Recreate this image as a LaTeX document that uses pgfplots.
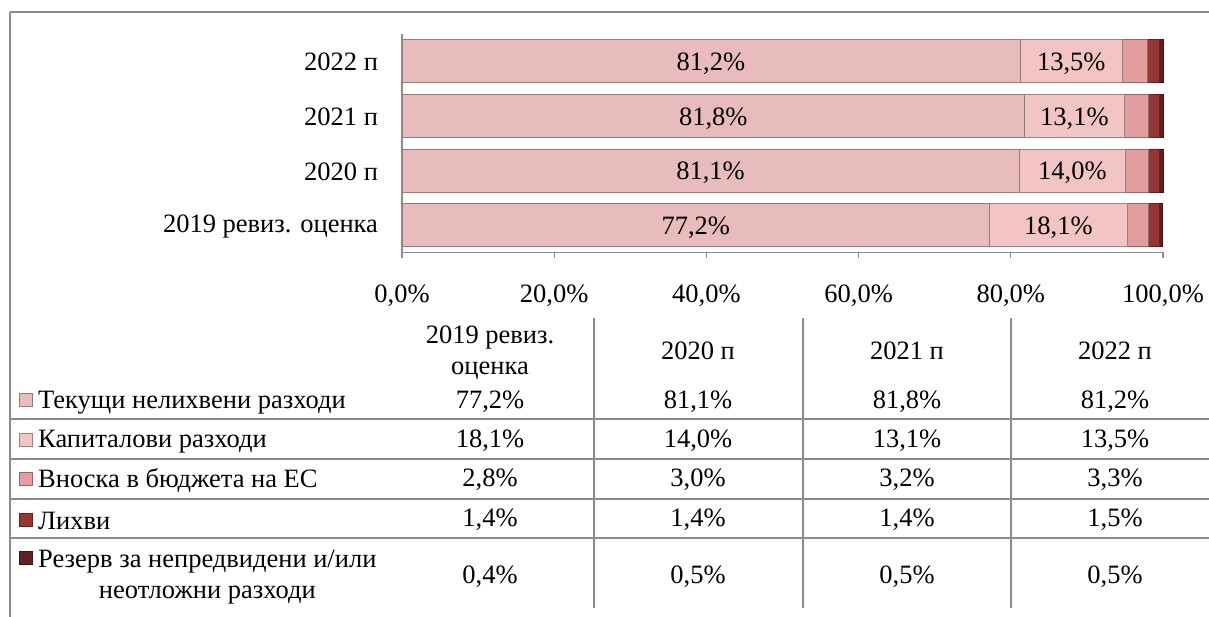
\documentclass[border=0pt]{standalone}
\usepackage{pgfplots}
\pgfplotsset{compat=1.18}
\usepackage{pgfplotstable}
\usepackage{fontspec}
\setmainfont{Liberation Serif}
\definecolor{cA}{HTML}{E8BCBC}
\definecolor{cB}{HTML}{F2C4C4}
\definecolor{cC}{HTML}{E29E9E}
\definecolor{cD}{HTML}{963634}
\definecolor{cE}{HTML}{5E2020}
\definecolor{linegray}{HTML}{8C8C8C}
\pgfplotstableread{
y s1 s2 s3 s4 s5
0 77.2 18.1 2.8 1.4 0.4
1 81.1 14.0 3.0 1.4 0.5
2 81.8 13.1 3.2 1.4 0.5
3 81.2 13.5 3.3 1.5 0.5
}\datatable
\newcommand{\fs}{\fontsize{26.5bp}{31bp}\selectfont}
\tikzset{
  bev/.style={fill=#1, draw=#1!65!black, line width=0.8bp},
}
\begin{document}
\fs
\begin{tikzpicture}[font=\fs]
\begin{axis}[
  at={(402bp,364.5bp)}, anchor=south west,
  scale only axis, width=761bp, height=218.8bp,
  xbar stacked, bar width=43bp,
  xmin=0, xmax=100, ymin=-0.5, ymax=3.5,
  axis x line*=bottom, axis y line*=left,
  axis line style={draw=linegray, line width=1.2bp},
  xtick={0,20,...,100}, tick align=outside, major tick length=6bp,
  xtick style={draw=linegray, line width=1.2bp},
  ytick={0,1,2,3}, yticklabels={2019 ревиз. оценка, 2020 п, 2021 п, 2022 п},
  ytick style={draw=none},
  /pgf/number format/assume math mode=true,
  xticklabel={\pgfmathprintnumber[fixed,fixed zerofill,precision=1,use comma]{\tick}\%},
  tick label style={font=\fs},
  xticklabel style={yshift=-17bp},
  yticklabel style={xshift=-9bp, yshift=-1bp},
  clip=false,
]
\addplot[bev=cA, nodes near coords={\pgfmathprintnumber[fixed,fixed zerofill,precision=1,use comma]{\pgfplotspointmeta}\%}, point meta=explicit, every node near coord/.append style={font=\fs, text=black, yshift=-2.5bp}] table[x=s1, y=y, meta=s1] {\datatable};
\addplot[bev=cB, nodes near coords={\pgfmathprintnumber[fixed,fixed zerofill,precision=1,use comma]{\pgfplotspointmeta}\%}, point meta=explicit, every node near coord/.append style={font=\fs, text=black, yshift=-2.5bp}] table[x=s2, y=y, meta=s2] {\datatable};
\addplot[bev=cC] table[x=s3, y=y] {\datatable};
\addplot[bev=cD] table[x=s4, y=y] {\datatable};
\addplot[bev=cE] table[x=s5, y=y] {\datatable};
\end{axis}
\begin{scope}[x=1bp, y=1bp]
  % frame
  \draw[linegray, line width=1.2bp] (10,605) -- (1209,605);
  \draw[linegray, line width=1.2bp] (10,605) -- (10,0);
  % table grid
  \foreach \yy in {198,158,118,79} \draw[linegray, line width=1.2bp] (10,\yy) -- (1209,\yy);
  \foreach \xx in {594,803,1011} \draw[linegray, line width=1.2bp] (\xx,299) -- (\xx,9);
  % header
  \node[align=center] at (490,264) {2019 ревиз.\\оценка};
  \node at (698,266) {2020 п};
  \node at (907,266) {2021 п};
  \node at (1115,266) {2022 п};
  % swatches
  \path[bev=cA] (19,211) rectangle (32,224);
  \path[bev=cB] (19,171) rectangle (32,184);
  \path[bev=cC] (19,132) rectangle (32,145);
  \path[bev=cD] (19,91) rectangle (32,104);
  \path[bev=cE] (19,53) rectangle (32,66);
  % row labels
  \node[anchor=west, inner sep=0pt] at (38,214) {Текущи нелихвени разходи};
  \node[anchor=west, inner sep=0pt] at (38,175.5) {Капиталови разходи};
  \node[anchor=west, inner sep=0pt] at (38,136.5) {Вноска в бюджета на ЕС};
  \node[anchor=west, inner sep=0pt] at (38,96.5) {Лихви};
  \node[anchor=west, inner sep=0pt, align=center] at (38,40) {Резерв за непредвидени и/или\\неотложни разходи};
  % values
  \node at (490,215) {77,2\%};
  \node at (490,176.5) {18,1\%};
  \node at (490,137) {2,8\%};
  \node at (490,97.5) {1,4\%};
  \node at (490,40.5) {0,4\%};
  \node at (698,215) {81,1\%};
  \node at (698,176.5) {14,0\%};
  \node at (698,137) {3,0\%};
  \node at (698,97.5) {1,4\%};
  \node at (698,40.5) {0,5\%};
  \node at (907,215) {81,8\%};
  \node at (907,176.5) {13,1\%};
  \node at (907,137) {3,2\%};
  \node at (907,97.5) {1,4\%};
  \node at (907,40.5) {0,5\%};
  \node at (1115,215) {81,2\%};
  \node at (1115,176.5) {13,5\%};
  \node at (1115,137) {3,3\%};
  \node at (1115,97.5) {1,5\%};
  \node at (1115,40.5) {0,5\%};
\end{scope}
\pgfresetboundingbox
\path[use as bounding box] (0,0) rectangle (1209bp,617bp);
\end{tikzpicture}
\end{document}
